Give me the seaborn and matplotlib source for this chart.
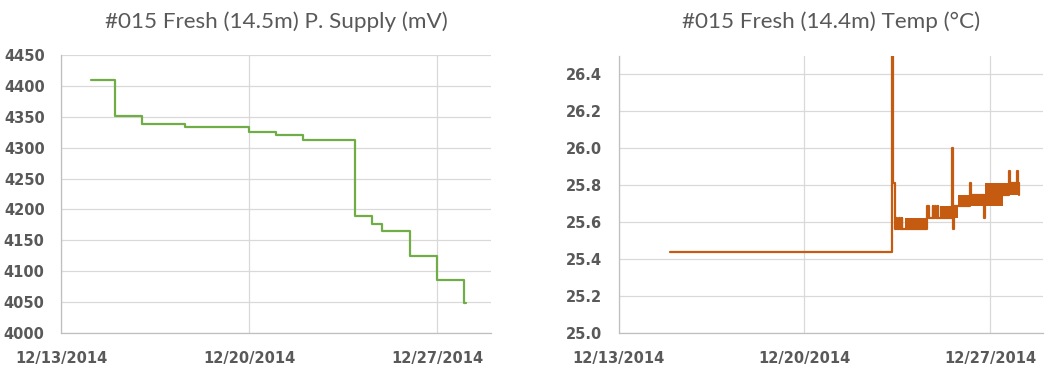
# Buoy #015 Fresh: power supply and temperature, Dec 2014

import pandas as pd
import matplotlib.pyplot as plt
import matplotlib.dates as mdates
import seaborn as sns

# --------------------------
# Data
# --------------------------
supply_times = ["2014-12-14 03:00", "2014-12-15 00:00", "2014-12-16 00:00", "2014-12-17 15:00",
                "2014-12-20 00:00", "2014-12-21 00:00", "2014-12-22 00:00", "2014-12-23 23:00",
                "2014-12-24 14:00", "2014-12-24 23:00", "2014-12-26 00:00", "2014-12-27 00:00",
                "2014-12-28 00:00", "2014-12-28 02:00"]
supply_mv = [4410, 4352, 4339, 4333, 4326, 4320, 4313, 4190, 4177, 4165, 4125, 4086, 4048, 4048]

temp_times = ["2014-12-14 22:00", "2014-12-23 07:26", "2014-12-23 08:24", "2014-12-23 09:36",
              "2014-12-23 10:48", "2014-12-23 11:17", "2014-12-23 13:41", "2014-12-23 14:10",
              "2014-12-23 15:50", "2014-12-23 16:19", "2014-12-24 14:53", "2014-12-24 16:48",
              "2014-12-24 19:55", "2014-12-24 20:24", "2014-12-24 22:19", "2014-12-24 22:48",
              "2014-12-25 00:43", "2014-12-25 01:12", "2014-12-25 13:41", "2014-12-25 14:10",
              "2014-12-25 14:38", "2014-12-25 15:22", "2014-12-26 05:46", "2014-12-26 06:14",
              "2014-12-26 18:43", "2014-12-26 19:12", "2014-12-27 17:02", "2014-12-27 17:31",
              "2014-12-28 00:29", "2014-12-28 00:58", "2014-12-28 02:24"]
temp_c = [25.4375, 26.8, 25.8125, 25.5625,
          25.625, 25.5625, 25.625, 25.5625,
          25.625, 25.5625, 25.6875, 25.625,
          25.6875, 25.625, 25.6875, 25.625,
          25.6875, 25.625, 26.0, 25.625,
          25.5625, 25.6875, 25.8125, 25.75,
          25.625, 25.75, 25.875, 25.8125,
          25.875, 25.8125, 25.75]

# stretches where the reading flickers between two adjacent levels
flicker_start = ["2014-12-23 19:00", "2014-12-25 02:38", "2014-12-25 19:00",
                 "2014-12-26 19:12", "2014-12-27 11:17"]
flicker_end = ["2014-12-24 15:50", "2014-12-25 19:00", "2014-12-26 19:12",
               "2014-12-27 11:17", "2014-12-28 02:10"]
flicker_low = [25.5625, 25.625, 25.6875, 25.6875, 25.75]
flicker_high = [25.625, 25.6875, 25.75, 25.8125, 25.8125]

supply = pd.DataFrame({"time": pd.to_datetime(supply_times), "mv": supply_mv})
temp = pd.DataFrame({"time": pd.to_datetime(temp_times), "c": temp_c})
flicker = pd.DataFrame({"start": pd.to_datetime(flicker_start), "end": pd.to_datetime(flicker_end),
                        "low": flicker_low, "high": flicker_high})

# --------------------------
# Plot
# --------------------------
sns.set_theme(style="whitegrid", rc={"grid.color": "#D9D9D9", "grid.linewidth": 0.9,
                                     "axes.edgecolor": "#BFBFBF", "axes.linewidth": 0.9})
text_grey = "#595959"
green = "#70AD47"
orange = "#C55A11"

fig = plt.figure(figsize=(10.6, 3.75), dpi=100)
ax1 = fig.add_axes([61.3 / 1060, 1 - 332.7 / 375, 429.4 / 1060, 277.4 / 375])
ax2 = fig.add_axes([618.7 / 1060, 1 - 333.3 / 375, 424.6 / 1060, 277.6 / 375])

sns.lineplot(data=supply, x="time", y="mv", color=green, lw=1.6,
             drawstyle="steps-post", estimator=None, ax=ax1)

for _, row in flicker.iterrows():
    ax2.fill_between([row["start"], row["end"]], row["low"], row["high"],
                     color=orange, lw=0)
sns.lineplot(data=temp, x="time", y="c", color=orange, lw=1.6,
             drawstyle="steps-post", estimator=None, ax=ax2)

ax1.set_ylim(4000, 4450)
ax1.set_yticks(range(4000, 4451, 50))
ax2.set_ylim(25.0, 26.5)
ax2.set_yticks([25.0, 25.2, 25.4, 25.6, 25.8, 26.0, 26.2, 26.4])
ax2.yaxis.set_major_formatter(plt.FormatStrFormatter("%.1f"))

titles = ["#015 Fresh (14.5m) P. Supply (mV)", "#015 Fresh (14.4m) Temp (°C)"]
for ax, title in zip([ax1, ax2], titles):
    ax.set_xlim(pd.Timestamp("2014-12-13"), pd.Timestamp("2014-12-29"))
    ax.set_xticks(pd.to_datetime(["2014-12-13", "2014-12-20", "2014-12-27"]))
    ax.xaxis.set_major_formatter(mdates.DateFormatter("%m/%d/%Y"))
    ax.set_xlabel("")
    ax.set_ylabel("")
    ax.set_title(title, color=text_grey, fontsize=16.2, family="Lato", pad=20)
    for side in ["top", "right"]:
        ax.spines[side].set_visible(False)
    ax.tick_params(axis="y", length=0, pad=12, labelsize=10.5, labelcolor=text_grey)
    ax.tick_params(axis="x", length=0, pad=13, labelsize=10.5, labelcolor=text_grey)
    for lab in ax.get_xticklabels() + ax.get_yticklabels():
        lab.set_fontweight("bold")
        lab.set_family("DejaVu Sans")

plt.savefig("out.png", dpi=100)
